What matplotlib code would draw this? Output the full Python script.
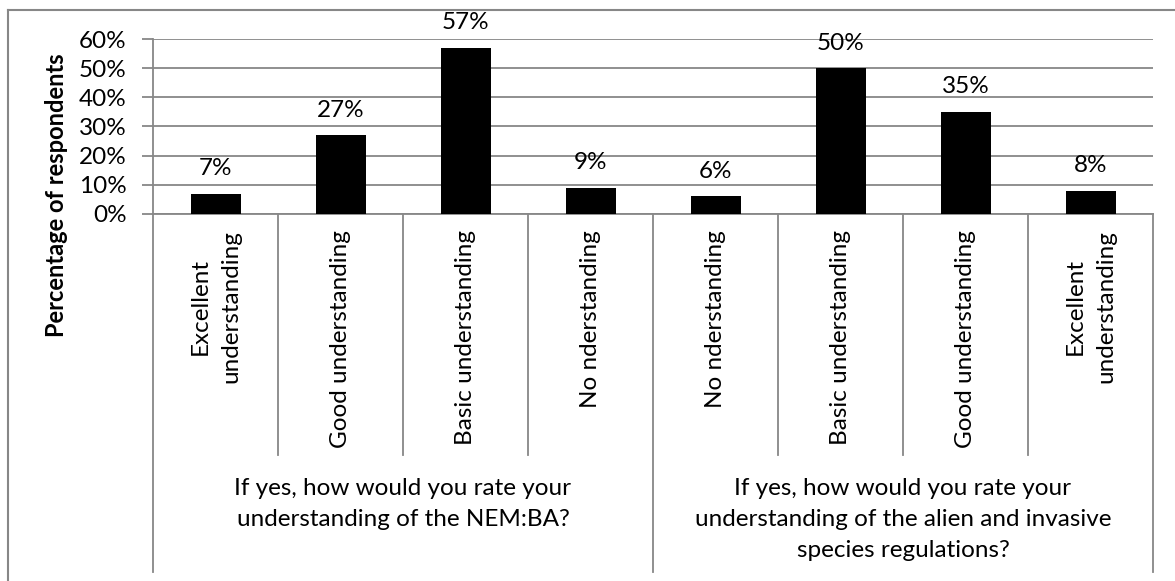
import matplotlib.pyplot as plt
from matplotlib.lines import Line2D
from matplotlib.ticker import PercentFormatter
from matplotlib.transforms import blended_transform_factory

plt.rcParams['font.family'] = ['Lato', 'DejaVu Sans']

# Survey answers, two questions with four levels each
categories = ["Excellent\nunderstanding", "Good understanding", "Basic understanding", "No nderstanding",
              "No nderstanding", "Basic understanding", "Good understanding", "Excellent\nunderstanding"]
values = [7, 27, 57, 9, 6, 50, 35, 8]
groups = ["If yes, how would you rate your\nunderstanding of the NEM:BA?",
          "If yes, how would you rate your\nunderstanding of the alien and invasive\nspecies regulations?"]
group_sizes = [4, 4]
yticks = [0, 10, 20, 30, 40, 50, 60]

GRAY = '#878787'
FS = 17.5
W, H = 1175, 581


def fy(py):
    # pixel row (from the top) -> figure fraction
    return 1 - py / H


fig = plt.figure(figsize=(W / 100, H / 100), dpi=100)
ax = fig.add_axes([153 / W, fy(214), 1000 / W, 175 / H])

x = list(range(len(values)))
ax.bar(x, values, width=0.4, color='black', zorder=3)
ax.set_xlim(-0.5, len(values) - 0.5)
ax.set_ylim(0, 60)
ax.set_yticks(yticks)
ax.yaxis.set_major_formatter(PercentFormatter(decimals=0))
ax.set_xticks([])
ax.grid(axis='y', color=GRAY, lw=1.3, zorder=0)
ax.set_axisbelow(True)
for side in ['top', 'right']:
    ax.spines[side].set_visible(False)
for side in ['left', 'bottom']:
    ax.spines[side].set_color(GRAY)
    ax.spines[side].set_linewidth(1.3)
ax.tick_params(axis='y', length=8, color=GRAY, width=1.3, pad=11, labelsize=FS)

# value labels above the bars
for xi, v in zip(x, values):
    ax.annotate(f"{v}%", (xi, v), xytext=(0, 10.5), textcoords='offset points',
                ha='center', va='bottom', fontsize=FS)

# multi-level category axis drawn below the plot
trans = blended_transform_factory(ax.transData, fig.transFigure)
bounds = [-0.5]
for n in group_sizes:
    bounds.append(bounds[-1] + n)
for k in range(len(values) + 1):
    xb = k - 0.5
    bottom = 572 if xb in bounds else 455
    ax.add_line(Line2D([xb, xb], [fy(214), fy(bottom)], transform=trans,
                       color=GRAY, lw=1.3, clip_on=False))

for xi, lab in zip(x, categories):
    ax.text(xi, fy(230), lab, transform=trans, rotation=90, ha='center', va='top',
            multialignment='center', fontsize=FS, linespacing=1.55)

for i, g in enumerate(groups):
    xc = (bounds[i] + bounds[i + 1]) / 2
    ax.text(xc, fy(478), g, transform=trans, ha='center', va='top',
            multialignment='center', fontsize=FS, linespacing=1.6)

fig.text(57 / W, fy(195), "Percentage of respondents", rotation=90,
         ha='center', va='center', fontsize=17, fontweight='bold')

# frame edges
fig.add_artist(Line2D([8 / W, 8 / W], [fy(10), 0], color=GRAY, lw=1.5))
fig.add_artist(Line2D([8 / W, 1], [fy(10), fy(10)], color=GRAY, lw=1.5))

fig.savefig('out.png', dpi=100)
